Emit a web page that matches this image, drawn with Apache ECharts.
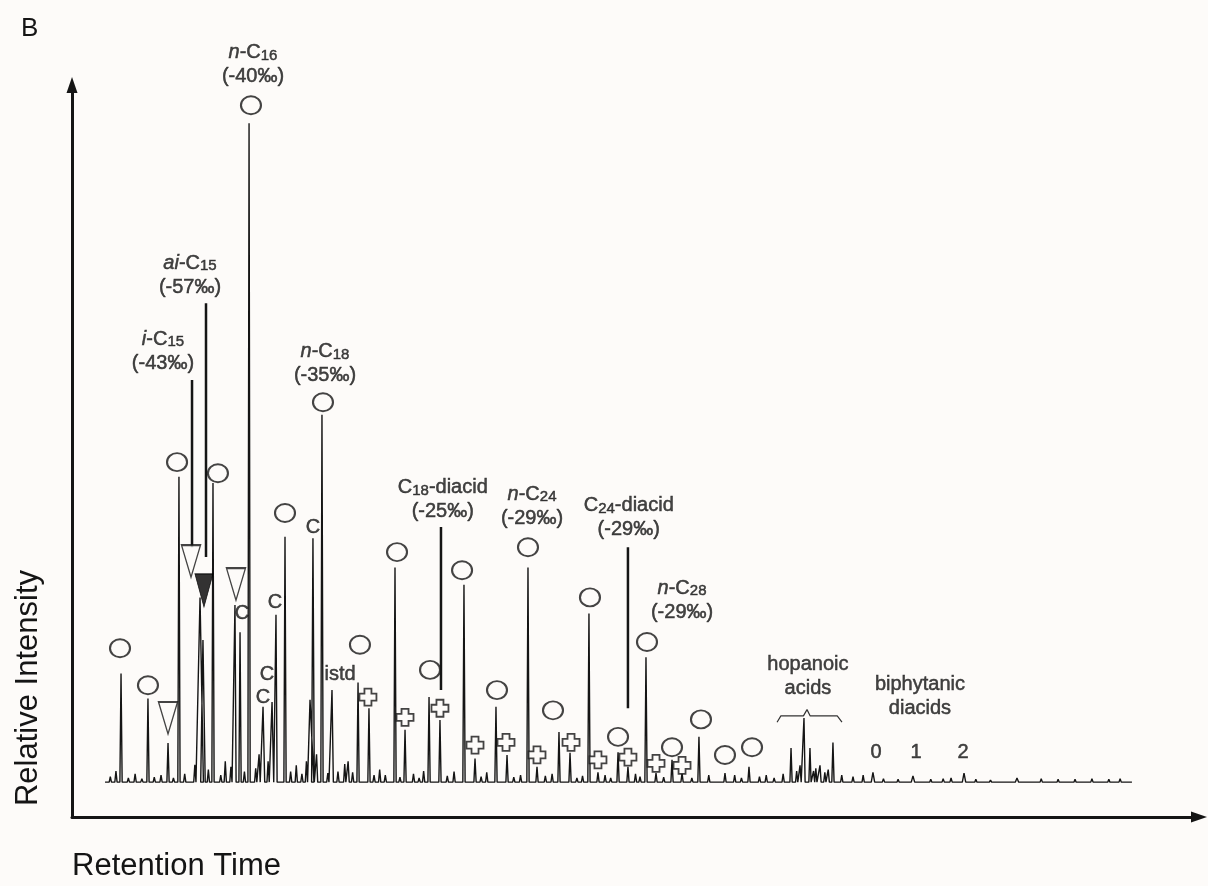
<!DOCTYPE html>
<html><head><meta charset="utf-8">
<script src="https://cdn.jsdelivr.net/npm/echarts@6/dist/echarts.min.js"></script>
<style>html,body{margin:0;padding:0;background:#fdfbf9}#c{width:1208px;height:886px}</style>
</head><body><div id="c"></div>
<script>
// ---- chromatogram peaks (retention time, relative intensity, half width) ----
const peakTimes   = [4.35,6.74,8.52,9.49,11.36,11.62,12.51,14.46,14.91,15.71,16.95,17.75,18.10,18.90,21.12,21.38,22.18,23.07,25.38,26.35,28.66,29.55,31.68,32.65,34.78,35.76,37.62,38.60,40.46,41.26,43.21,44.19,45.87,46.67,48.45,49.33,50.93,51.82,53.24,54.13,55.63,57.94,60.07,63.80,64.95,65.48,66.37,67.52,71.07,74.62,79.15,83.85];
const peakHeights = [15.6,12.0,5.6,43.8,26.5,20.4,42.9,25.4,21.5,94.5,10.8,11.5,24.0,35.2,11.8,35.0,52.7,13.2,14.3,10.6,30.8,7.5,12.2,8.9,28.3,3.4,10.8,3.9,30.8,2.2,7.2,4.2,24.2,1.4,4.3,2.2,17.9,1.3,3.2,1.3,6.5,1.3,2.2,4.9,9.2,4.9,2.4,5.7,1.4,0.9,1.3,0.6];
const peakWidths  = [0.1,0.1,0.1,0.1,0.3,0.2,0.1,0.1,0.1,0.1,0.15,0.15,0.1,0.1,0.35,0.12,0.1,0.12,0.1,0.1,0.1,0.1,0.1,0.1,0.1,0.1,0.1,0.1,0.1,0.1,0.1,0.1,0.1,0.1,0.1,0.1,0.1,0.1,0.1,0.1,0.1,0.1,0.1,0.1,0.1,0.1,0.1,0.1,0.15,0.15,0.15,0.15];
const noiseTimes   = [3.4,3.9,5.0,5.6,6.2,7.3,7.9,9.0,10.0,10.9,12.1,13.2,13.6,14.1,15.3,16.3,16.6,17.4,19.4,19.9,20.4,20.8,21.7,22.7,23.6,24.2,24.5,24.9,26.8,27.3,27.8,29.1,30.3,30.8,31.2,33.3,33.9,36.3,36.8,39.2,39.8,42.0,42.6,44.8,45.3,47.3,47.8,50.0,50.4,52.5,55.0,56.5,58.8,59.4,61.0,61.6,62.3,63.1,64.3,64.6,65.8,66.0,66.8,67.1,68.3,69.3,70.2,72.0,73.3,76.2,77.3,78.0,80.2,81.5,86.0,87.5,89.0,90.5,92.0,93.0];
const noiseHeights = [0.8,1.6,0.6,1.2,0.5,0.7,1.0,0.6,1.2,2.5,1.8,1.0,3.0,2.2,1.5,2.0,4.0,3.0,1.5,2.4,1.2,3.0,4.0,1.3,1.5,2.6,3.0,1.4,1.0,1.8,1.0,0.7,1.2,0.6,1.6,0.9,1.5,0.8,1.4,0.7,1.0,0.9,1.2,0.6,0.9,1.0,0.6,1.2,0.8,0.7,0.6,1.0,1.0,0.6,0.8,1.0,0.6,1.2,1.6,2.4,1.6,2.0,1.4,1.8,1.0,0.8,1.0,0.5,0.4,0.4,0.5,0.6,0.4,0.3,0.5,0.4,0.4,0.5,0.4,0.5];
const traceStart = 2.93, traceEnd = 94.05;

// ---- peak annotations ----
const circleTimes  = [4.26,6.74,9.32,12.95,15.88,18.90,22.27,25.55,28.84,31.77,34.61,37.71,40.46,42.68,45.96,48.45,51.02,53.24,55.81,57.94,60.34];
const circleLevels = [19.2,13.9,45.9,44.3,97.1,38.6,54.5,19.7,33.0,16.1,30.4,13.2,33.7,10.3,26.5,6.5,20.1,5.0,9.0,3.9,5.0];
const openTriTimes  = [8.52,10.56,14.55];
const openTriLevels = [9.2,31.7,28.4];
const filledTriTimes  = [11.71];
const filledTriLevels = [27.5];
const crossTimes  = [26.26,29.55,32.65,35.76,38.51,41.26,44.28,46.67,49.33,51.82,54.13];
const crossLevels = [12.2,9.3,10.6,5.3,5.7,3.9,5.7,3.2,3.6,2.7,2.4];
const tagTexts  = ['C','C','C','C','C','istd','0','1','2'];
const tagTimes  = [15.08,17.30,16.95,18.01,21.38,23.78,71.34,74.89,79.06];
const tagLevels = [24.2,15.4,12.2,25.8,36.6,15.4,4.2,4.2,4.2];
const leaderTimes   = [10.65,11.89,32.74,49.33];
const leaderTops    = [57.7,68.7,36.6,33.7];
const leaderBottoms = [33.7,32.3,13.2,10.6];
const labelTexts = [
  '{it|i}{t|-C}{sub|15}\n{t|(-43‰)}',
  '{it|ai}{t|-C}{sub|15}\n{t|(-57‰)}',
  '{it|n}{t|-C}{sub|16}\n{t|(-40‰)}',
  '{it|n}{t|-C}{sub|18}\n{t|(-35‰)}',
  '{t|C}{sub|18}{t|-diacid}\n{t|(-25‰)}',
  '{it|n}{t|-C}{sub|24}\n{t|(-29‰)}',
  '{t|C}{sub|24}{t|-diacid}\n{t|(-29‰)}',
  '{it|n}{t|-C}{sub|28}\n{t|(-29‰)}',
  '{t|hopanoic}\n{t|acids}',
  '{t|biphytanic}\n{t|diacids}'
];
const labelTimes  = [8.07,10.47,16.06,22.45,32.9,40.82,49.4,54.13,65.3,75.24];
const labelLevels = [61.8,72.7,102.9,60.0,40.5,39.6,37.9,26.1,15.2,12.3];
const braceTimes  = [62.56,62.9,64.9,65.22,65.5,67.9,68.32];
const braceLevels = [8.6,9.5,9.5,10.4,9.5,9.5,8.6];

// ---- build trace ----
const events = [];
peakTimes.forEach((t,i)=>events.push([t,peakHeights[i],peakWidths[i]]));
noiseTimes.forEach((t,i)=>events.push([t,noiseHeights[i],0.1]));
events.sort((a,b)=>a[0]-b[0]);
const trace = [[traceStart,0]];
events.forEach(e=>{trace.push([e[0]-e[2],0]);trace.push([e[0],e[1]]);trace.push([e[0]+e[2],0]);});
trace.push([traceEnd,0]);

const FONT = 'Liberation Sans, Arial, Helvetica, sans-serif';
const INK = '#151515';
const BG = '#fdfbf9';
const tb = {textBorderColor:INK, textBorderWidth:0.5};
const rich = {
  t:  {fontSize:20, lineHeight:24, color:INK, fontFamily:FONT, verticalAlign:'middle', ...tb},
  it: {fontSize:20, lineHeight:24, color:INK, fontFamily:FONT, fontStyle:'italic', verticalAlign:'middle', ...tb},
  sub:{fontSize:15, lineHeight:15, color:INK, fontFamily:FONT, verticalAlign:'middle', padding:[6,0,0,0], ...tb}
};
const zip = (a,b)=>a.map((v,i)=>[v,b[i]]);
const markerBase = {type:'scatter', silent:true, clip:false, z:5};
const hidden = {color:'rgba(0,0,0,0)', borderWidth:0};

const chart = echarts.init(document.getElementById('c'), null, {renderer:'canvas'});
chart.setOption({
  backgroundColor:BG,
  animation:false,
  grid:{left:72,right:9,top:85,bottom:69},
  xAxis:{type:'value',min:0,max:100,
    axisLine:{show:true,onZero:false,symbol:['none','triangle'],symbolSize:[11,16],lineStyle:{color:INK,width:3}},
    axisTick:{show:false},axisLabel:{show:false},splitLine:{show:false}},
  yAxis:{type:'value',min:-5,max:100,
    axisLine:{show:true,onZero:false,symbol:['none','triangle'],symbolSize:[11,16],lineStyle:{color:INK,width:3}},
    axisTick:{show:false},axisLabel:{show:false},splitLine:{show:false}},
  graphic:[
    {type:'text',left:21,top:16,style:{text:'B',font:'26px '+FONT,fill:INK}},
    {type:'text',x:28,y:688,rotation:Math.PI/2,style:{text:'Relative Intensity',font:'31px '+FONT,fill:INK,align:'center',verticalAlign:'middle'}},
    {type:'text',left:72,top:851,style:{text:'Retention Time',font:'31px '+FONT,fill:INK}}
  ],
  series:[
    {type:'line',data:trace,showSymbol:false,symbol:'none',silent:true,z:2,lineStyle:{color:INK,width:1.4}},
    ...leaderTimes.map((t,i)=>({type:'line',silent:true,symbol:'none',z:3,lineStyle:{color:INK,width:2.5},data:[[t,leaderTops[i]],[t,leaderBottoms[i]]]})),
    {type:'line',silent:true,symbol:'none',z:3,lineStyle:{color:'#333',width:1.2},data:zip(braceTimes,braceLevels)},
    {...markerBase,data:zip(circleTimes,circleLevels),symbol:'path://M0,10a10,10 0 1,0 20,0a10,10 0 1,0 -20,0z',symbolSize:[20,18],
      itemStyle:{color:BG,borderColor:INK,borderWidth:2}},
    {...markerBase,data:zip(openTriTimes,openTriLevels),symbol:'path://M0,0H20L10,34Z',symbolSize:[19,32],
      itemStyle:{color:BG,borderColor:INK,borderWidth:1.6}},
    {...markerBase,data:zip(filledTriTimes,filledTriLevels),symbol:'path://M0,0H20L10,34Z',symbolSize:[18,33],
      itemStyle:{color:'#000',borderColor:'#000',borderWidth:1}},
    {...markerBase,data:zip(crossTimes,crossLevels),symbol:'path://M5,0H12V5H17V12H12V17H5V12H0V5H5Z',symbolSize:[17,17],
      itemStyle:{color:BG,borderColor:INK,borderWidth:1.8}},
    {...markerBase,z:6,data:zip(tagTimes,tagLevels).map((d,i)=>({value:d,name:tagTexts[i]})),symbolSize:1,itemStyle:hidden,
      label:{show:true,position:'inside',formatter:p=>p.name,fontSize:20,color:INK,fontFamily:FONT,...tb}},
    {...markerBase,z:6,data:zip(labelTimes,labelLevels).map((d,i)=>({value:d,name:labelTexts[i]})),symbolSize:1,itemStyle:hidden,
      label:{show:true,position:'inside',formatter:p=>p.name,align:'center',rich:rich}}
  ]
});
</script></body></html>
